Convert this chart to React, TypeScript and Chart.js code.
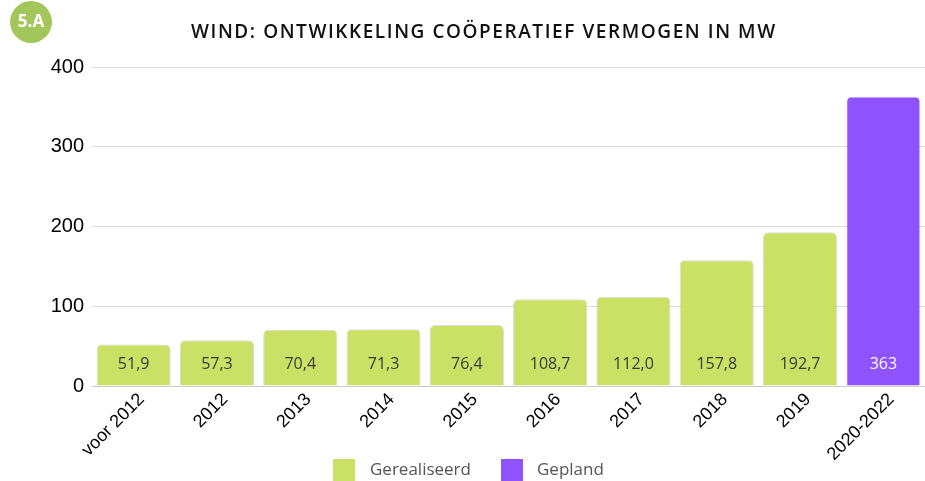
import React, { useEffect, useRef } from "react";
import { Chart, registerables } from "chart.js";

Chart.register(...registerables);

const categories = ["voor 2012", "2012", "2013", "2014", "2015", "2016", "2017", "2018", "2019", "2020-2022"];
const gerealiseerd = [51.9, 57.3, 70.4, 71.3, 76.4, 108.7, 112.0, 157.8, 192.7, null];
const gepland = [null, null, null, null, null, null, null, null, null, 363];
const yTicks = [0, 100, 200, 300, 400];
const seriesNames = ["Gerealiseerd", "Gepland"];
const titleText = "WIND: ONTWIKKELING COÖPERATIEF VERMOGEN IN MW";
const badgeText = "5.A";

const GREEN = "#cbe166";
const PURPLE = "#8f52ff";
const COLORS = [GREEN, PURPLE];

const decorPlugin = {
  id: "decor",
  afterDraw(chart: any) {
    const ctx = chart.ctx;
    ctx.save();
    // badge
    ctx.fillStyle = "#a3c65a";
    ctx.beginPath();
    ctx.arc(31, 22, 21, 0, Math.PI * 2);
    ctx.fill();
    ctx.fillStyle = "#ffffff";
    ctx.font = "bold 17px 'Open Sans', sans-serif";
    ctx.textAlign = "center";
    ctx.textBaseline = "middle";
    ctx.fillText(badgeText, 31, 22);
    // title
    ctx.fillStyle = "#111111";
    ctx.font = "600 19px 'Open Sans', sans-serif";
    const targetW = 584;
    const w = ctx.measureText(titleText).width;
    const ls = Math.max(0, (targetW - w) / (titleText.length - 1));
    (ctx as any).letterSpacing = ls.toFixed(2) + "px";
    ctx.textAlign = "left";
    ctx.fillText(titleText, 483 - targetW / 2, 33);
    (ctx as any).letterSpacing = "0px";
    // legend
    const items = [
      { x: 333, tx: 370 },
      { x: 501, tx: 537 },
    ];
    ctx.font = "17px 'Open Sans', sans-serif";
    ctx.textBaseline = "middle";
    items.forEach((it, i) => {
      ctx.fillStyle = COLORS[i];
      ctx.fillRect(it.x, 459, 22, 22);
      ctx.fillStyle = "#555555";
      ctx.fillText(seriesNames[i], it.tx, 470);
    });
    ctx.restore();
  },
  afterDatasetsDraw(chart: any) {
    const ctx = chart.ctx;
    const y0 = chart.scales.y.getPixelForValue(0);
    ctx.save();
    ctx.font = "16px 'Open Sans', sans-serif";
    ctx.textAlign = "center";
    ctx.textBaseline = "middle";
    chart.data.datasets.forEach((ds: any, di: number) => {
      const meta = chart.getDatasetMeta(di);
      meta.data.forEach((el: any, i: number) => {
        const v = ds.data[i];
        if (v === null || v === undefined) return;
        const txt = di === 0 ? v.toFixed(1).replace(".", ",") : String(v);
        ctx.fillStyle = di === 0 ? "#3a3a3a" : "#ffffff";
        ctx.fillText(txt, el.x, y0 - 22);
      });
    });
    ctx.restore();
  },
};

export default function App() {
  const ref = useRef<HTMLCanvasElement>(null);
  useEffect(() => {
    const mk = (label: string, data: any, color: string, border: string) => ({
      label,
      data,
      backgroundColor: color,
      borderColor: border,
      borderWidth: 1,
      borderSkipped: "bottom",
      borderRadius: { topLeft: 5, topRight: 5, bottomLeft: 0, bottomRight: 0 },
      barPercentage: 0.89,
      categoryPercentage: 1,
    });
    const chart = new Chart(ref.current!, {
      type: "bar",
      data: {
        labels: categories,
        datasets: [
          mk(seriesNames[0], gerealiseerd, GREEN, "rgba(0,0,0,0.15)"),
          mk(seriesNames[1], gepland, PURPLE, "rgba(0,0,0,0.08)"),
        ] as any,
      },
      options: {
        responsive: false,
        animation: false,
        layout: { padding: { top: 67, right: 0, left: 0, bottom: 0 } },
        plugins: {
          legend: { display: false },
          tooltip: { enabled: false },
          title: { display: false },
        },
        scales: {
          x: {
            stacked: true,
            grid: { display: false, drawTicks: false },
            border: { color: "#cccccc" },
            afterFit: (axis: any) => {
              axis.height = 95;
            },
            ticks: {
              maxRotation: 45,
              minRotation: 45,
              color: "#000000",
              padding: 3,
              labelOffset: 8,
              font: { size: 18, family: "'Liberation Sans', Arial, sans-serif" },
            },
          },
          y: {
            stacked: true,
            min: 0,
            max: 400,
            afterBuildTicks: (axis: any) => {
              axis.ticks = yTicks.map((v) => ({ value: v }));
            },
            afterFit: (axis: any) => {
              axis.width = 92;
            },
            grid: { color: "#dddddd", drawTicks: false },
            border: { display: false },
            ticks: {
              color: "#000000",
              padding: 8,
              font: { size: 20, family: "'Liberation Sans', Arial, sans-serif" },
            },
          },
        },
      },
      plugins: [decorPlugin],
    });
    return () => chart.destroy();
  }, []);
  return (
    <div style={{ position: "fixed", left: 0, top: 0, width: 925, height: 481, background: "#fff" }}>
      <canvas ref={ref} width={925} height={481} />
    </div>
  );
}
